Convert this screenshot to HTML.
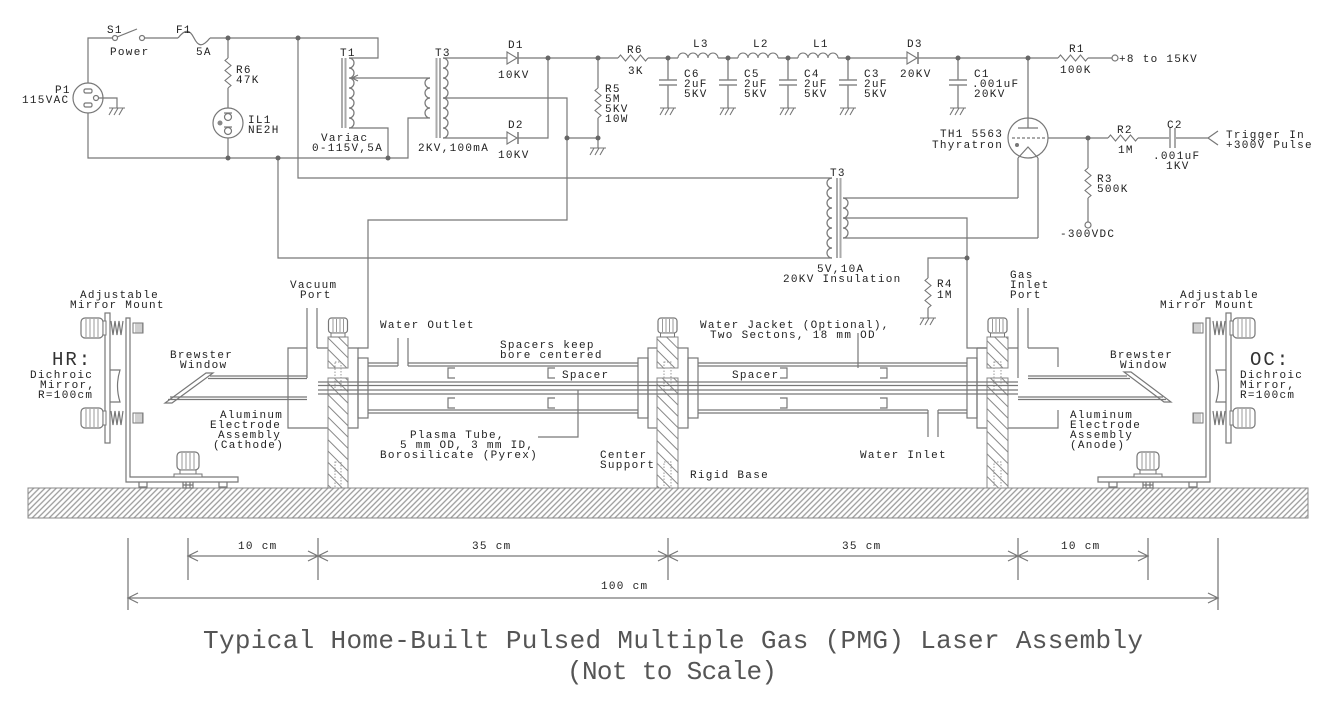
<!DOCTYPE html>
<html><head><meta charset="utf-8">
<style>
html,body{margin:0;padding:0;background:#fff;}
svg{display:block;}
text{font-family:"Liberation Mono","DejaVu Sans Mono",monospace;font-size:11px;fill:#222;letter-spacing:1.3px;}
.w{fill:none;stroke:#777;stroke-width:1.2;}
.g{fill:none;stroke:#aaa;stroke-width:2;}
.big{font-size:19px;letter-spacing:2px;fill:#333;}
.title{font-size:26px;letter-spacing:0;fill:#555;}
.d{fill:#666;}
</style></head><body>
<svg width="1335" height="704" viewBox="0 0 1335 704" xmlns="http://www.w3.org/2000/svg">
<defs>
<pattern id="hb" width="4" height="4" patternUnits="userSpaceOnUse" patternTransform="rotate(45)"><rect width="4" height="4" fill="#fff"/><line x1="1" y1="0" x2="1" y2="4" stroke="#9a9a9a" stroke-width="1.3"/></pattern>
<pattern id="hp" width="8" height="8" patternUnits="userSpaceOnUse" patternTransform="rotate(-45)"><rect width="8" height="8" fill="#fff"/><line x1="1" y1="0" x2="1" y2="8" stroke="#888" stroke-width="1"/></pattern>
<path id="gnd" d="M-8,0 H8 M-4,0 L-8,7 M1,0 L-3,7 M6,0 L2,7" fill="none" stroke="#777" stroke-width="1.1"/>
<path id="rh" d="M0,0 l2.5,-3 l5,6 l5,-6 l5,6 l5,-6 l5,6 l2.5,-3" fill="none" stroke="#777" stroke-width="1.1"/>
<path id="rv" d="M0,0 l-3,2.5 l6,5 l-6,5 l6,5 l-6,5 l6,5 l-3,2.5" fill="none" stroke="#777" stroke-width="1.1"/>
<path id="ind" d="M0,0 a5,5 0 0 1 10,0 a5,5 0 0 1 10,0 a5,5 0 0 1 10,0 a5,5 0 0 1 10,0" fill="none" stroke="#777" stroke-width="1.1"/>
<g id="cap">
  <path d="M0,0 V22 M0,27 V50" stroke="#aaa" stroke-width="2" fill="none"/>
  <path d="M-9,22 H9 M-9,27 H9" stroke="#888" stroke-width="1.5" fill="none"/>
  <use href="#gnd" y="50"/>
</g>
<g id="dio"><polygon points="0,-6 0,6 10,0" fill="#fff" stroke="#777" stroke-width="1.1"/><line x1="11" y1="-6" x2="11" y2="6" stroke="#777" stroke-width="1.5"/></g>
<g id="knobh">
  <rect x="0" y="-10" width="22" height="20" rx="4" fill="#fff" stroke="#777" stroke-width="1.2"/>
  <path d="M5,-9 V9 M9,-9 V9 M13,-9 V9 M17,-9 V9" stroke="#999" stroke-width="1"/>
  <rect x="22" y="-7" width="3" height="14" fill="#fff" stroke="#777" stroke-width="1"/>
</g>
<g id="scr">
  <rect x="2" y="-5" width="10" height="10" fill="#fff" stroke="#777" stroke-width="1"/>
  <path d="M5,-5 V5 M7,-5 V5 M9,-5 V5 M11,-5 V5" stroke="#888" stroke-width="0.8"/>
</g>
<g id="knobv">
  <rect x="-11" y="0" width="22" height="18" rx="4" fill="#fff" stroke="#777" stroke-width="1.2"/>
  <path d="M-6,1 V17 M-2,1 V17 M2,1 V17 M6,1 V17" stroke="#999" stroke-width="1"/>
  <rect x="-8" y="18" width="16" height="4" fill="#fff" stroke="#777" stroke-width="1"/>
  <rect x="-14" y="22" width="28" height="3" fill="#fff" stroke="#777" stroke-width="1"/>
</g>
<g id="knobp">
  <rect x="-9.5" y="0" width="19" height="15" rx="3" fill="#fff" stroke="#777" stroke-width="1.2"/>
  <path d="M-5,1 V14 M-1.5,1 V14 M2,1 V14 M5.5,1 V14" stroke="#999" stroke-width="1"/>
  <rect x="-7" y="15" width="14" height="4" fill="#fff" stroke="#777" stroke-width="1"/>
</g>
<g id="mount">
  <path class="w" d="M126,318 V482 H238 V477 H130 V318 Z" fill="#fff"/>
  <rect class="w" x="105" y="313" width="5" height="130" fill="#fff"/>
  <use href="#knobh" x="81" y="328"/>
  <use href="#knobh" x="81" y="418"/>
  <path class="w" d="M111,321 l2,14 l2,-14 l2,14 l2,-14 l2,14 l2,-14 M111,411 l2,14 l2,-14 l2,14 l2,-14 l2,14 l2,-14"/>
  <use href="#scr" x="131" y="328"/>
  <use href="#scr" x="131" y="418"/>
  <path class="w" d="M110,370 H120 Q115,386 120,402 H110" fill="#fff"/>
  <use href="#knobv" x="188" y="452"/>
  <path class="w" d="M139,482 v5 h8 v-5 M219,482 v5 h8 v-5 M183,482 v6 h10 v-6 M183,485 h10 M186,482 v6 M190,482 v6"/>
</g>
</defs>

<!-- ================= CIRCUIT ================= -->
<path class="w" d="M88,83 V38 H112.5 M144.5,38 H178 M210,38 H378 V58 H349"/>
<path class="w" d="M178,38 C186,28 190,30 194,38 C198,46 202,48 210,38"/>
<circle cx="115" cy="38" r="2.5" class="w" fill="#fff"/>
<circle cx="142" cy="38" r="2.5" class="w" fill="#fff"/>
<path class="w" d="M117,37 L137,29"/>
<path class="w" d="M88,113 V158 H388"/>
<circle cx="88" cy="98" r="15" class="w"/>
<rect x="84" y="89" width="8" height="4" rx="1.5" class="w"/>
<rect x="84" y="103" width="8" height="4" rx="1.5" class="w"/>
<circle cx="96" cy="98" r="2.5" class="w"/>
<path class="w" d="M98.5,98 H117 V108"/>
<use href="#gnd" x="117" y="108"/>
<path class="w" d="M228,38 V58"/>
<use href="#rv" x="228" y="58"/>
<path class="w" d="M228,88 V108 M228,138 V158"/>
<circle cx="228" cy="123" r="15" class="w"/>
<path class="w" d="M224,113 H232"/>
<circle cx="228" cy="117" r="3.5" class="w"/>
<path class="w" d="M224,127 H232"/>
<circle cx="228" cy="131" r="3.5" class="w"/>
<circle cx="220" cy="123" r="2.5" fill="#888"/>
<path class="w" d="M349,58 a5,5 0 0 1 0,10 a5,5 0 0 1 0,10 a5,5 0 0 1 0,10 a5,5 0 0 1 0,10 a5,5 0 0 1 0,10 a5,5 0 0 1 0,10 a5,5 0 0 1 0,10"/>
<path class="g" d="M342,58 V128 M345.5,58 V128"/>
<path class="w" d="M349,128 H388 V158"/>
<path class="w" d="M352,78 H430 M358,75 L352,78 L358,81"/>
<path class="w" d="M430,78 a5,5 0 0 0 0,10 a5,5 0 0 0 0,10 a5,5 0 0 0 0,10 a5,5 0 0 0 0,10 H408 V158 H388"/>
<path class="g" d="M436.5,58 V138 M440,58 V138"/>
<path class="w" d="M443,58 a5,5 0 0 1 0,10 a5,5 0 0 1 0,10 a5,5 0 0 1 0,10 a5,5 0 0 1 0,10 a5,5 0 0 1 0,10 a5,5 0 0 1 0,10 a5,5 0 0 1 0,10 a5,5 0 0 1 0,10"/>
<path class="w" d="M443,58 H507 M443,138 H507 M518,138 H548 V58 M518,58 H618 M648,58 H678 M718,58 H738 M778,58 H798 M838,58 H907 M918,58 H1058 M1088,58 H1112"/>
<use href="#dio" x="507" y="58"/>
<use href="#dio" x="507" y="138"/>
<use href="#dio" x="907" y="58"/>
<path class="w" d="M443,98 H567 V220 H368 V348 H358"/>
<path class="w" d="M567,138 H598 V148"/>
<use href="#gnd" x="598" y="148"/>
<path class="w" d="M598,58 V88 M598,118 V138"/>
<use href="#rv" x="598" y="88"/>
<use href="#rh" x="618" y="58"/>
<use href="#ind" x="678" y="58"/>
<use href="#ind" x="738" y="58"/>
<use href="#ind" x="798" y="58"/>
<use href="#cap" x="668" y="58"/>
<use href="#cap" x="728" y="58"/>
<use href="#cap" x="788" y="58"/>
<use href="#cap" x="848" y="58"/>
<use href="#cap" x="958" y="58"/>
<use href="#rh" x="1058" y="58"/>
<circle cx="1115" cy="58" r="3" class="w" fill="#fff"/>
<path class="g" d="M1028,58 V118"/>
<circle cx="1028" cy="138" r="20" class="w"/>
<path class="w" d="M1018,128 H1038 M1028,118 V128"/>
<path class="w" d="M1012,138 H1046" stroke-dasharray="3,2"/>
<path class="w" d="M1018,158 L1028,147 L1038,158"/>
<path class="g" d="M1018,158 V198 M1038,158 V238"/>
<circle cx="1017" cy="145" r="2" fill="#777"/>
<path class="w" d="M1048,138 H1108 M1138,138 H1170 M1174,138 H1208 M1218,131 L1208,138 L1218,145"/>
<use href="#rh" x="1108" y="138"/>
<path class="g" d="M1170,128 V148 M1175,128 V148"/>
<path class="w" d="M1088,138 V168 M1088,198 V222"/>
<use href="#rv" x="1088" y="168"/>
<circle cx="1088" cy="225" r="3" class="w" fill="#fff"/>
<path class="w" d="M298,38 V178 H832 M278,158 V258 H832"/>
<path class="w" d="M832,178 a5,5 0 0 0 0,10 a5,5 0 0 0 0,10 a5,5 0 0 0 0,10 a5,5 0 0 0 0,10 a5,5 0 0 0 0,10 a5,5 0 0 0 0,10 a5,5 0 0 0 0,10 a5,5 0 0 0 0,10"/>
<path class="g" d="M837,178 V258 M840.5,178 V258"/>
<path class="w" d="M843,198 a5,5 0 0 1 0,10 a5,5 0 0 1 0,10 a5,5 0 0 1 0,10 a5,5 0 0 1 0,10"/>
<path class="w" d="M843,198 H1018 M843,238 H1038 M843,218 H967 V348 H987"/>
<path class="w" d="M967,258 H928 V278 M928,308 V318"/>
<use href="#rv" x="928" y="278"/>
<use href="#gnd" x="928" y="318"/>
<g class="d">
<circle cx="228" cy="38" r="2.5"/><circle cx="298" cy="38" r="2.5"/>
<circle cx="228" cy="158" r="2.5"/><circle cx="278" cy="158" r="2.5"/><circle cx="388" cy="158" r="2.5"/>
<circle cx="548" cy="58" r="2.5"/><circle cx="598" cy="58" r="2.5"/><circle cx="668" cy="58" r="2.5"/>
<circle cx="728" cy="58" r="2.5"/><circle cx="788" cy="58" r="2.5"/><circle cx="848" cy="58" r="2.5"/>
<circle cx="958" cy="58" r="2.5"/><circle cx="1028" cy="58" r="2.5"/>
<circle cx="567" cy="138" r="2.5"/><circle cx="598" cy="138" r="2.5"/>
<circle cx="1088" cy="138" r="2.5"/><circle cx="967" cy="258" r="2.5"/>
</g>

<!-- ================= LASER ================= -->
<rect x="28" y="488" width="1280" height="30" fill="url(#hb)" stroke="#888" stroke-width="1"/>
<use href="#mount"/>
<use href="#mount" transform="translate(1336,0) scale(-1,1)"/>

<polygon points="165,403 172,403 213,373 206,373" class="w" fill="#fff"/>
<path class="w" d="M210,376 H307 M208,378.5 H307 M170,397 H307 M168,399.5 H307"/>
<polygon points="1124,372 1131,372 1171,402 1164,402" class="w" fill="#fff"/>
<path class="w" d="M1028,376 H1127 M1028,378.5 H1130 M1018,397 H1163 M1018,399.5 H1166"/>

<path class="w" d="M307,348 H288 V428 H358 V348 H317"/>
<path class="w" d="M307,308 V378 M317,308 V348"/>
<rect x="358" y="358" width="10" height="60" class="w" fill="#fff"/>
<path class="w" d="M977,348 H1018 M1028,348 H1058 V367 M1058,410 V428 H977 V348"/>
<path class="w" d="M1018,308 V378 M1028,308 V348"/>
<rect x="967" y="358" width="10" height="60" class="w" fill="#fff"/>
<rect x="648" y="348" width="40" height="80" class="w" fill="#fff"/>
<rect x="638" y="358" width="10" height="60" class="w" fill="#fff"/>
<rect x="688" y="358" width="10" height="60" class="w" fill="#fff"/>

<path class="w" d="M368,363 H398 M408,363 H638 M368,366 H398 M408,366 H638 M368,410 H638 M368,413 H638"/>
<path class="w" d="M698,363 H967 M698,366 H967 M698,410 H928 M938,410 H967 M698,413 H928 M938,413 H967"/>
<path class="w" d="M398,338 V366 M408,338 V366 M928,410 V437 M938,410 V437"/>
<path class="w" d="M455,368 H448 V378 H455 M555,368 H548 V378 H555 M455,398 H448 V408 H455 M555,398 H548 V408 H555"/>
<path class="w" d="M780,368 H787 V378 H780 M880,368 H887 V378 H880 M780,398 H787 V408 H780 M880,398 H887 V408 H880"/>

<rect x="328" y="337" width="20" height="31" fill="url(#hp)" stroke="#888"/>
<rect x="328" y="378" width="20" height="110" fill="url(#hp)" stroke="#888"/>
<use href="#knobp" x="338" y="318"/>
<rect x="657" y="337" width="21" height="31" fill="url(#hp)" stroke="#888"/>
<rect x="657" y="378" width="21" height="110" fill="url(#hp)" stroke="#888"/>
<use href="#knobp" x="667.5" y="318"/>
<rect x="987" y="337" width="21" height="31" fill="url(#hp)" stroke="#888"/>
<rect x="987" y="378" width="21" height="110" fill="url(#hp)" stroke="#888"/>
<use href="#knobp" x="997.5" y="318"/>
<g fill="none" stroke="#999" stroke-width="1" stroke-dasharray="1.5,1.5">
<rect x="335" y="362" width="6" height="28"/><rect x="335" y="462" width="6" height="26"/>
<rect x="664" y="362" width="7" height="28"/><rect x="664" y="462" width="7" height="26"/>
<rect x="994" y="362" width="7" height="28"/><rect x="994" y="462" width="7" height="26"/>
</g>

<path class="w" d="M318,382 H1018 M318,385.5 H1018 M318,390 H1018 M318,394 H1018"/>
<path class="w" d="M538,437 H578 V390 M858,333 V368"/>

<path class="g" d="M128,538 V610 M188,538 V580 M318,538 V580 M668,538 V580 M1018,538 V580 M1148,538 V580 M1218,538 V610"/>
<path class="w" d="M188,556 H1148 M198,551 L188,556 L198,561 M308,551 L318,556 L308,561 M328,551 L318,556 L328,561 M658,551 L668,556 L658,561 M678,551 L668,556 L678,561 M1008,551 L1018,556 L1008,561 M1028,551 L1018,556 L1028,561 M1138,551 L1148,556 L1138,561"/>
<path class="w" d="M128,598 H1218 M138,593 L128,598 L138,603 M1208,593 L1218,598 L1208,603"/>

<!-- ================= TEXT ================= -->
<text x="107" y="33">S1</text>
<text x="110" y="55">Power</text>
<text x="176" y="33">F1</text>
<text x="196" y="55">5A</text>
<text x="55" y="93">P1</text>
<text x="22" y="103">115VAC</text>
<text x="236" y="73">R6</text>
<text x="236" y="83">47K</text>
<text x="248" y="123">IL1</text>
<text x="248" y="133">NE2H</text>
<text x="340" y="56">T1</text>
<text x="321" y="141">Variac</text>
<text x="312" y="151">0-115V,5A</text>
<text x="435" y="56">T3</text>
<text x="418" y="151">2KV,100mA</text>
<text x="508" y="48">D1</text>
<text x="498" y="78">10KV</text>
<text x="508" y="128">D2</text>
<text x="498" y="158">10KV</text>
<text x="605" y="92">R5</text>
<text x="605" y="102">5M</text>
<text x="605" y="112">5KV</text>
<text x="605" y="122">10W</text>
<text x="627" y="53">R6</text>
<text x="628" y="74">3K</text>
<text x="693" y="47">L3</text>
<text x="753" y="47">L2</text>
<text x="813" y="47">L1</text>
<text x="684" y="77">C6</text><text x="684" y="87">2uF</text><text x="684" y="97">5KV</text>
<text x="744" y="77">C5</text><text x="744" y="87">2uF</text><text x="744" y="97">5KV</text>
<text x="804" y="77">C4</text><text x="804" y="87">2uF</text><text x="804" y="97">5KV</text>
<text x="864" y="77">C3</text><text x="864" y="87">2uF</text><text x="864" y="97">5KV</text>
<text x="907" y="47">D3</text>
<text x="900" y="77">20KV</text>
<text x="974" y="77">C1</text><text x="972" y="87">.001uF</text><text x="974" y="97">20KV</text>
<text x="940" y="137">TH1 5563</text>
<text x="932" y="148">Thyratron</text>
<text x="1069" y="52">R1</text>
<text x="1060" y="73">100K</text>
<text x="1119" y="62">+8 to 15KV</text>
<text x="1117" y="133">R2</text>
<text x="1118" y="153">1M</text>
<text x="1167" y="128">C2</text>
<text x="1153" y="159">.001uF</text>
<text x="1166" y="169">1KV</text>
<text x="1226" y="138">Trigger In</text>
<text x="1226" y="148">+300V Pulse</text>
<text x="1097" y="182">R3</text>
<text x="1097" y="192">500K</text>
<text x="1060" y="237">-300VDC</text>
<text x="830" y="176">T3</text>
<text x="817" y="272">5V,10A</text>
<text x="783" y="282">20KV Insulation</text>
<text x="937" y="287">R4</text>
<text x="937" y="298">1M</text>
<text x="1010" y="278">Gas</text>
<text x="1010" y="288">Inlet</text>
<text x="1010" y="298">Port</text>

<text x="80" y="298">Adjustable</text>
<text x="70" y="308">Mirror Mount</text>
<text x="52" y="365" class="big">HR:</text>
<text x="30" y="378">Dichroic</text>
<text x="40" y="388">Mirror,</text>
<text x="38" y="398">R=100cm</text>
<text x="170" y="358">Brewster</text>
<text x="180" y="368">Window</text>
<text x="290" y="288">Vacuum</text>
<text x="300" y="298">Port</text>
<text x="380" y="328">Water Outlet</text>
<text x="220" y="418">Aluminum</text>
<text x="210" y="428">Electrode</text>
<text x="218" y="438">Assembly</text>
<text x="213" y="448">(Cathode)</text>
<text x="500" y="348">Spacers keep</text>
<text x="500" y="358">bore centered</text>
<text x="562" y="378">Spacer</text>
<text x="732" y="378">Spacer</text>
<text x="410" y="438">Plasma Tube,</text>
<text x="400" y="448">5 mm OD, 3 mm ID,</text>
<text x="380" y="458">Borosilicate (Pyrex)</text>
<text x="600" y="458">Center</text>
<text x="600" y="468">Support</text>
<text x="690" y="478">Rigid Base</text>
<text x="700" y="328">Water Jacket (Optional),</text>
<text x="710" y="338">Two Sectons, 18 mm OD</text>
<text x="860" y="458">Water Inlet</text>
<text x="1180" y="298">Adjustable</text>
<text x="1160" y="308">Mirror Mount</text>
<text x="1250" y="365" class="big">OC:</text>
<text x="1240" y="378">Dichroic</text>
<text x="1240" y="388">Mirror,</text>
<text x="1240" y="398">R=100cm</text>
<text x="1110" y="358">Brewster</text>
<text x="1120" y="368">Window</text>
<text x="1070" y="418">Aluminum</text>
<text x="1070" y="428">Electrode</text>
<text x="1070" y="438">Assembly</text>
<text x="1070" y="448">(Anode)</text>

<text x="238" y="549">10 cm</text>
<text x="472" y="549">35 cm</text>
<text x="842" y="549">35 cm</text>
<text x="1061" y="549">10 cm</text>
<text x="601" y="589">100 cm</text>

<text x="203" y="648" class="title" textLength="940" lengthAdjust="spacing">Typical Home-Built Pulsed Multiple Gas (PMG) Laser Assembly</text>
<text x="567" y="679" class="title" textLength="210" lengthAdjust="spacing">(Not to Scale)</text>
</svg>
</body></html>
